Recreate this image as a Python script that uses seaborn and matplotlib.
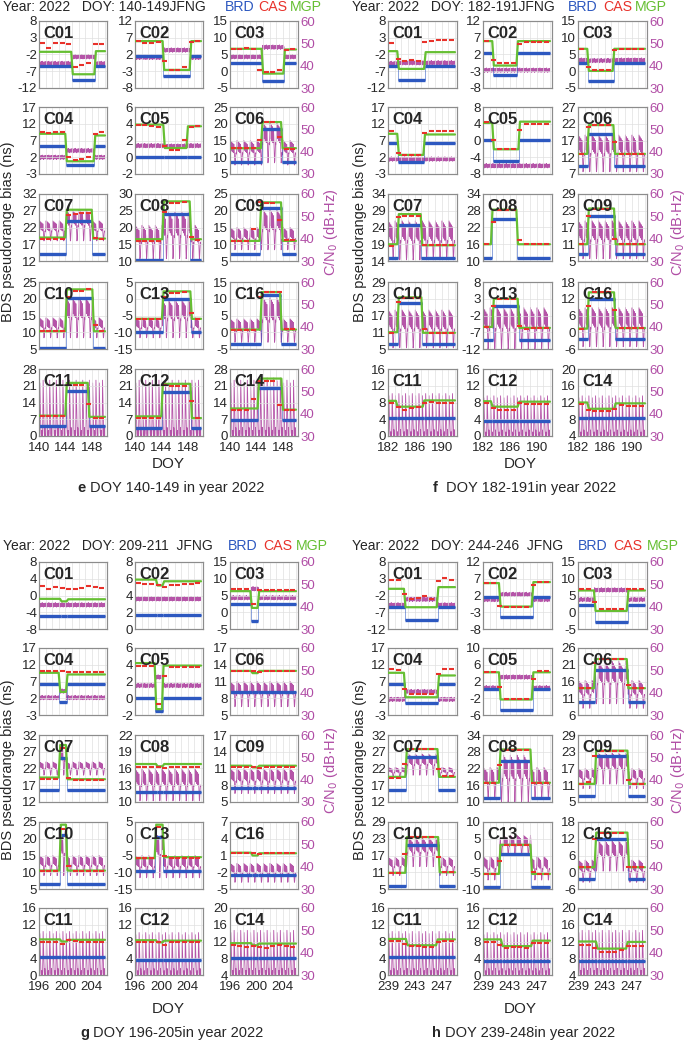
import numpy as np
import matplotlib
matplotlib.use("Agg")
import matplotlib.pyplot as plt
import seaborn as sns

sns.set_style("white")
plt.rcParams['font.family'] = ['Liberation Sans', 'DejaVu Sans']
plt.rcParams['axes.edgecolor'] = '#8c8c8c'
plt.rcParams['axes.linewidth'] = 0.8

BLUE = '#2d58c0'
RED = '#e8322b'
GREEN = '#66bf33'
PURPLE = '#b554a8'
PURPLE_T = '#b04da5'

SATS = ['C01', 'C02', 'C03', 'C04', 'C05', 'C06', 'C07', 'C08', 'C09',
        'C10', 'C13', 'C16', 'C11', 'C12', 'C14']
ORBIT = ['GEO'] * 5 + ['IGSO'] * 7 + ['MEO'] * 3

# one day of C/N0 (24 samples), per orbit type
GEO_SHAPE = [0.5, -0.7, 0.9, -0.3, 0.2, -1.0, 0.7, 0.0, -0.5, 0.8, -0.8, 0.3,
             1.0, -0.2, -0.7, 0.5, -1.0, 0.2, 0.7, -0.5, 0.3, -0.8, 0.8, -0.2]
IGSO_SHAPE = [0.55, 0.8, 1.0, 0.85, 0.6, 0.75, 0.95, 0.8, 0.55, 0.7, 0.9, 0.75,
              0.5, 0.65, 0.85, 0.7, 0.45, 0.2, 0.0, 0.05, 0.25, 0.4, 0.5, 0.45]
MEO_SHAPE = [0.0, 0.05, 0.3, 0.95, 0.7, 0.45, 0.2, 0.05, 0.0, 0.0, 0.1, 0.0,
             0.0, 0.05, 0.35, 1.0, 0.75, 0.5, 0.25, 0.05, 0.0, 0.15, 0.0, 0.0]
SHAPES = {'GEO': GEO_SHAPE, 'IGSO': IGSO_SHAPE, 'MEO': MEO_SHAPE}

# ---------------- panel e : DOY 140-149 ----------------
E_DOY0 = 140
E_YLIM = [(-12, 8), (-8, 12), (-5, 15), (-3, 17), (-2, 6), (5, 25), (12, 32), (10, 30),
          (5, 25), (5, 25), (-15, 5), (-5, 15), (0, 28), (0, 28), (0, 28)]
E_SW = [(145.0, 148.5), (144.3, 148.4), (144.9, 148.2), (144.1, 148.4), (144.4, 147.9),
        (144.8, 147.85), (144.1, 148.1), (144.25, 148.4), (144.6, 147.85), (144.1, 148.2),
        (144.2, 148.5), (144.7, 147.7), (144.1, 147.5), (144.1, 148.5), (144.3, 147.9)]
E_BRD = [(-5.3, -9.7, -5.3), (1.6, -4.4, 1.6), (2.6, -2.8, 2.6), (5.3, -0.2, 5.3), (0, 0, 0),
         (8.5, 18.5, 8.5), (14, 24, 14), (10.3, 24, 10.3), (7, 20.7, 7), (5.3, 20.2, 5.3),
         (-10, 0, -10), (-3.5, 11, -3.5), (4, 19, 4), (3.3, 18.5, 3.3), (6.5, 20, 6.5)]
E_MGP = [(-1.2, -7.9, -1.0), (6.0, -2.6, 6.0), (6.7, -0.7, 6.5), (9.0, 0.8, 8.5), (3.9, 1.1, 3.7),
         (12.7, 20.5, 12.7), (19, 27.3, 18.7), (16.5, 27.8, 16.5), (11, 22.5, 11), (10.3, 22.8, 10.3),
         (-6, 2.2, -6), (0.8, 12, 0.8), (8.5, 22.2, 8.0), (8.2, 21.8, 7.5), (11.5, 24, 11)]
E_CAS = [[1.3, -0.1, 1.3, 1.3, 1.2, -5.6, -5.0, -4.6, 1.0, 1.0],
         [6.0, 5.5, 5.5, 5.8, 0.2, -2.7, -2.7, -1.6, 5.8, 6.0],
         [6.7, 6.5, 6.8, 6.6, 0.3, -0.3, -0.3, 0.5, 6.3, 6.5],
         [9.5, 9.3, 9.6, 9.6, 2.0, 1.3, 1.5, 2.0, 9.0, 9.6],
         [3.9, 3.9, 3.7, 3.6, 1.3, 0.9, 0.9, 2.1, 3.6, 3.7],
         [12.7, 12.7, 12.7, 12.7, 15.2, 20.5, 20.5, 16.0, 12.5, 12.5],
         [18.7, 18.7, 18.7, 18.7, 25.8, 26.0, 26.2, 26.3, 18.9, 18.7],
         [16, 16, 16, 16, 24.5, 27.3, 27.3, 27.5, 17.2, 16.3],
         [11, 11, 11, 14.5, 22.5, 22.3, 22.3, 17.3, 11.3, 11.3],
         [10.3, 10.3, 10.3, 10.3, 20.4, 22.3, 22.3, 23.0, 12.2, 10.4],
         [-6, -6, -6, -6, 0.5, 1.7, 1.7, 2.0, -4.3, -6],
         [0.8, 0.8, 0.8, 0.8, 10.5, 12, 12, 12, 1, 1],
         [8.2, 8.2, 8.2, 8.2, 21.5, 21.5, 21.5, 13.5, 7.5, 7.5],
         [7.7, 7.7, 7.7, 7.7, 21.5, 21, 21, 21, 14.5, 7.5],
         [11, 11, 11, 15.5, 23, 23, 23, 13, 11, 11]]
E_CN_LO = [(41, 44, 41), (43.7, 47, 43.7), (44, 48.3, 44), (37.5, 40.5, 37.5), (42.7, 42.5, 42.7),
           (34, 35, 34), (39, 39, 39), (31, 31, 31), (35, 35, 35), (35, 35, 35),
           (35, 35, 35), (33, 33, 33), (30, 30, 30), (30, 30, 30), (30, 30, 30)]
E_CN_HI = [(41, 44, 41), (43.7, 47, 43.7), (44, 48.3, 44), (37.5, 40.5, 37.5), (42.7, 42.5, 42.7),
           (45, 53, 45), (48, 53, 48), (46, 52, 46), (45, 53, 45), (44, 53, 44),
           (44, 52, 44), (43.5, 53, 43.5), (55, 55, 55), (55, 55, 55), (55, 56, 55)]

# ---------------- panel f : DOY 182-191 ----------------
F_DOY0 = 182
F_YLIM = [(-12, 8), (-8, 12), (-5, 15), (-3, 17), (-8, 8), (7, 27), (14, 34), (10, 34),
          (5, 29), (5, 29), (-12, 8), (-6, 18), (0, 16), (0, 16), (4, 20)]
F_SW = [(183.5, 187.5), (183.5, 187.1), (183.5, 187.3), (183.5, 187.4), (183.5, 187.4),
        (183.5, 187.4), (183.5, 187.0), (183.3, 187.1), (183.5, 187.5), (183.5, 187.1),
        (183.5, 187.3), (183.5, 187.5), (183.3, 187.3), (183.3, 187.3), (183.5, 187.5)]
F_BRD = [(-5.3, -9.7, -5.3), (2.3, -4, 2.3), (2.6, -2.8, 2.6), (6.3, 0.5, 6.3), (0.2, -4.8, 0.2),
         (9.3, 18.8, 9.3), (15, 24.7, 15), (11.2, 25, 11.2), (7.4, 21, 7.4), (6.7, 21.3, 6.7),
         (-9.3, 0.8, -9.3), (-2.5, 12, -2.5), (4.3, 4.3, 4.3), (3.7, 3.7, 3.7), (8.2, 8.2, 8.2)]
F_MGP = [(-1, -6.3, -1.3), (6, -1.3, 6), (6.7, 0.1, 6.7), (9, 2.7, 8.8), (4.2, -2.1, 4.5),
         (13, 21.6, 13), (19, 28, 18.7), (16, 28.4, 16), (11, 23.8, 11), (11, 23.5, 10.8),
         (-5.4, 3, -5.7), (1.3, 14.3, 1.5), (8.4, 7.0, 8.5), (8.3, 7.0, 8.2), (12, 10.5, 11.8)]
F_CAS = [[1.3, -3.2, -4.0, -3.6, -4.0, 1.8, 2.0, 2.2, 2.4, 2.4],
         [6.0, 0.3, -0.5, -0.5, -0.5, 5.0, 5.8, 5.8, 5.8, 5.8],
         [6.7, 1.3, 0.3, 0.3, 0.3, 6.3, 6.5, 6.5, 6.5, 6.5],
         [9.7, 3.3, 2.7, 2.7, 2.7, 9.3, 9.7, 9.7, 9.7, 9.7],
         [4.5, 0.2, -2.0, -2.0, -2.0, 2.4, 4.0, 4.0, 4.0, 4.0],
         [13, 21, 21.6, 21.6, 21.6, 16.5, 13, 13, 13, 13],
         [18.5, 27, 27.5, 27.5, 27.5, 18.7, 18.7, 18.7, 18.7, 18.7],
         [16, 24, 28.4, 28.4, 28.4, 17.5, 16, 16, 16, 16],
         [11, 21.2, 23.8, 23.8, 23.8, 12.8, 11, 11, 11, 11],
         [10.8, 21.8, 23.3, 23.3, 23.3, 12, 10.8, 10.8, 10.8, 10.8],
         [-5.4, 0.8, 3, 3, 3, -5, -5.9, -5.7, -5.7, -5.7],
         [1.3, 9.4, 14.3, 14.3, 14.3, 8, 1.5, 1.5, 1.5, 1.5],
         [8.0, 6.9, 6.3, 6.7, 6.9, 7.9, 8.2, 8.0, 8.0, 8.0],
         [7.8, 6.7, 6.2, 6.2, 6.2, 8.0, 7.7, 7.7, 7.7, 7.7],
         [11.6, 10.1, 9.9, 9.9, 9.9, 10.5, 11.4, 11.2, 11.2, 11.2]]
F_CN_LO = [(41, 41.3, 41.3), (38, 38, 38), (42.5, 42.3, 42.5), (36.7, 36.7, 36.7), (33.7, 33.7, 33.7),
           (31, 31, 31), (30.5, 30.5, 30.5), None, (31, 31, 31), (30.5, 30.5, 30.5),
           (30, 30, 30), (31, 31, 31), (30, 30, 30), (30, 30, 30), (30, 30, 30)]
F_CN_HI = [(41, 41.3, 41.3), (38, 38, 38), (42.5, 42.3, 42.5), (36.7, 36.7, 36.7), (33.7, 33.7, 33.7),
           (47.5, 47.5, 47.5), (48, 48, 48), None, (48, 48, 48), (47.5, 47.5, 47.5),
           (48.5, 48.5, 48.5), (48.5, 48.5, 48.5), (49, 49, 49), (48, 48, 48), (48, 48, 48)]

# ---------------- panel g : DOY 196-205 ----------------
G_DOY0 = 196
G_YLIM = [(-8, 8), (0, 8), (-5, 15), (-3, 17), (-2, 6), (5, 17), (12, 32), (10, 22),
          (5, 17), (5, 25), (-15, 5), (-5, 7), (0, 16), (0, 16), (4, 20)]
G_SW = [(199.3, 200.3), (199.3, 200.3), (199.2, 200.3), (199.1, 200.2), (199.1, 200.2),
        (199.3, 200.3), (199.1, 200.2), (199.3, 200.3), (199.3, 200.3), (199.2, 200.2),
        (199.1, 200.3), (199.3, 200.3), (199.3, 200.3), (199.3, 200.3), (199.3, 200.3)]
G_BRD = [(-5, -5, -5), (1.7, 1.7, 1.7), (2.5, -2.5, 2.5), (6.3, 0.8, 6.3), (0, -1.5, 0),
         (9.2, 9.2, 9.2), (15.6, 25, 15.6), (11.8, 11.8, 11.8), (7.5, 7.5, 7.5), (6.5, 21, 6.5),
         (-9.5, 0.5, -9.5), (-2.5, -2.5, -2.5), (4.4, 4.4, 4.4), (3.7, 3.7, 3.7), (8, 8, 8)]
G_MGP = [(-0.8, -1.4, -0.9), (5.9, 5.2, 5.7), (6.3, 1.3, 6.3), (9.6, 3.9, 9.1), (4.2, -1.3, 3.9),
         (12.9, 12.5, 12.9), (19.3, 29, 18.8), (16.8, 16.4, 16.8), (11.5, 11.2, 11.5), (10.5, 24.2, 10.5),
         (-5.8, 4.2, -5.5), (1.5, 1.0, 1.4), (8.5, 8.0, 8.4), (8.3, 7.8, 8.2), (11.6, 11.1, 11.5)]
G_CAS = [[2.2, 1.6, 2.0, 1.8, 1.6, 1.6, 1.8, 2.2, 2.0, 1.8],
         [5.5, 5.4, 5.4, 5.3, 5.0, 5.3, 5.2, 5.4, 5.4, 5.5],
         [6.8, 6.8, 6.8, 2.5, 6.5, 6.5, 6.7, 6.7, 6.7, 6.7],
         [10, 10, 10, 10, 9.8, 9.8, 9.8, 9.8, 9.8, 9.8],
         [3.9, 3.9, 3.9, -0.7, 2.7, 3.7, 3.7, 3.7, 3.7, 3.7],
         [12.9, 12.9, 12.9, 12.9, 12.7, 12.9, 12.9, 12.9, 12.9, 12.9],
         [19, 19, 19, 28, 19.3, 18.6, 18.6, 18.6, 18.6, 18.6],
         [16.3, 16.3, 16.3, 16.3, 16.0, 16.3, 16.3, 16.3, 16.3, 16.3],
         [11.3, 11.3, 11.3, 11.3, 11.1, 11.3, 11.3, 11.3, 11.3, 11.3],
         [10.5, 10.5, 10.5, 23, 11.8, 10.5, 10.5, 10.5, 10.5, 10.5],
         [-5.8, -5.8, -5.8, 3.5, -5, -5.8, -5.8, -5.8, -5.8, -5.8],
         [1.5, 1.5, 1.5, 1.5, 1.2, 1.5, 1.5, 1.5, 1.5, 1.5],
         [8, 8, 8, 7.5, 8.3, 8.2, 8, 8, 8, 8],
         [7.8, 7.8, 7.8, 7.8, 7.1, 7.8, 7.8, 7.8, 7.8, 7.8],
         [11.2, 11.0, 10.7, 11.0, 10.6, 10.4, 11.0, 11.2, 11.0, 10.8]]
G_CN_LO = [(40.8, 40.8, 40.8), (43.5, 43.5, 43.5), (44, 48, 44), (37.8, 40.7, 37.8), (43.2, 47, 43.2),
           (33.7, 33.7, 33.7), (42, 42, 42), (30.5, 30.5, 30.5), (33.8, 33.8, 33.8), (36, 36, 36),
           (35, 35, 35), (33, 33, 33), (30, 30, 30), (30, 30, 30), (30, 30, 30)]
G_CN_HI = [(40.8, 40.8, 40.8), (43.5, 43.5, 43.5), (44, 48, 44), (37.8, 40.7, 37.8), (43.2, 47, 43.2),
           (45, 45, 45), (48, 55.5, 48), (44.7, 44.7, 44.7), (45, 45, 45), (45, 56, 45),
           (45, 56, 45), (41.5, 41.5, 41.5), (49.5, 49.5, 49.5), (49, 49, 49), (50, 50, 50)]

# ---------------- panel h : DOY 239-248 ----------------
H_DOY0 = 239
H_YLIM = [(-12, 8), (-8, 12), (-5, 15), (-3, 17), (-6, 10), (6, 26), (12, 32), (10, 34),
          (5, 29), (5, 29), (-10, 10), (-6, 18), (0, 16), (0, 16), (4, 20)]
H_SW = [(241.5, 246.4), (241.5, 246.4), (241.5, 246.4), (241.5, 246.5), (241.5, 246.4),
        (241.5, 246.4), (241.7, 246.5), (241.5, 246.2), (241.6, 246.5), (241.7, 246.6),
        (241.5, 246.2), (241.6, 246.5), (241.8, 246.3), (241.8, 246.3), (241.8, 246.3)]
H_BRD = [(-5.3, -9.4, -5.3), (1.7, -4.5, 1.7), (2.3, -2.8, 2.3), (6.3, 0.6, 6.3), (0.3, -4.8, 0.3),
         (9.8, 19.5, 9.8), (15.5, 25.3, 15.5), (11.3, 24.8, 11.3), (7.2, 21.3, 7.2), (6.2, 20.6, 6.2),
         (-9.5, 0.5, -9.5), (-2.4, 12, -2.4), (4.2, 4.2, 4.2), (3.3, 3.3, 3.3), (7.3, 7.3, 7.3)]
H_MGP = [(0.0, -5.5, 0.5), (5.7, -1.3, 6.0), (6.5, 0.4, 6.5), (9.6, 2.3, 8.8), (4.2, -2.3, 4.2),
         (14, 22.7, 14), (19.5, 27.8, 19.5), (16.9, 28.8, 16.9), (11.5, 23.4, 11.5), (10.8, 23.6, 11),
         (-5.5, 3.2, -5.5), (1.8, 14.2, 1.8), (8.6, 7.1, 8.5), (8.5, 6.9, 8.2), (12, 10.3, 11.9)]
H_CAS = [[2.5, 2.5, -1.7, -3.0, -2.8, -2.0, -3.0, 2.3, 3.2, 2.5],
         [5.7, 5.7, -1.0, -1.3, -1.3, -1.3, -1.3, 5.0, 6.0, 6.0],
         [7, 7, 3, 1, 1, 1, 1, 6.8, 6.8, 6.8],
         [10.6, 10.5, 4.8, 3.3, 3.3, 3.3, 3.3, 9.3, 10.8, 10.8],
         [4.2, 4.2, 0.6, -2.2, -2.2, -2.2, -2.2, 2.5, 4.4, 4.4],
         [14, 14, 21.5, 22.8, 22.8, 22.8, 22.8, 15, 14, 14],
         [19.2, 19.2, 23.2, 27.8, 27.8, 27.8, 27.8, 22, 19.8, 19.8],
         [16.7, 16.7, 23.3, 28.8, 28.8, 28.8, 28.8, 16.7, 16.7, 16.7],
         [11.5, 12, 21.4, 23.4, 23.4, 23.4, 23.4, 12.8, 11.4, 11.5],
         [10.8, 10.8, 17.7, 23.6, 23.6, 23.6, 23.6, 16.4, 11, 11],
         [-5.5, -5.5, -1.5, 3.2, 3.2, 3.2, 3.2, -4.8, -5.5, -5.5],
         [1.8, 1.8, 12, 14.2, 14.2, 14.2, 14.2, 1.8, 1.8, 1.8],
         [8.2, 8.2, 7.5, 7.0, 7.0, 6.8, 6.8, 7.9, 8.2, 8.2],
         [7.8, 7.8, 7.2, 6.4, 6.8, 6.8, 6.4, 7.6, 7.6, 7.6],
         [11.2, 11.2, 10.4, 9.6, 9.6, 9.4, 10.0, 11.0, 11.0, 11.0]]
H_CN_LO = [(40.8, 43.3, 40.8), (43.2, 45.5, 43.2), (43.2, 47.5, 43.2), (37, 40.5, 37), (42.2, 47, 42.2),
           (33, 35, 33), (41, 42, 41), (31.5, 30, 31.5), (36, 38, 36), (36, 40, 36),
           (34, 45, 34), (33, 38, 33), (30, 30, 30), (30, 30, 30), (30, 30, 30)]
H_CN_HI = [(40.8, 43.3, 40.8), (43.2, 45.5, 43.2), (43.2, 47.5, 43.2), (37, 40.5, 37), (42.2, 47, 42.2),
           (45.5, 54, 45.5), (45.5, 51.5, 45.5), (45.5, 51, 45.5), (45, 52, 45), (44.2, 53, 44.2),
           (44.5, 54, 44.5), (43, 51.5, 43), (49.5, 49.5, 49.5), (49, 49, 49), (50, 50, 50)]

# ---------------- layout (pixels of a 685 x 1041 canvas) ----------------
W, H = 685, 1041
fig = plt.figure(figsize=(W / 100, H / 100), dpi=100)


def rect(x, y, w, h):
    return [x / W, 1 - (y + h) / H, w / W, h / H]


def draw_sub(ax, d0, ylim, sw, brd, mgp, cas, lo, hi, orbit, name, show_x, show_r):
    t1, t2 = sw
    t_end = d0 + 10
    axr = ax.twinx()
    if lo is not None:
        t = d0 + np.arange(240) / 24
        seg = np.where(t < t1, 0, np.where(t < t2, 1, 2))
        shape = np.tile(SHAPES[orbit], 10)
        lo_a = np.array(lo)[seg]
        hi_a = np.array(hi)[seg]
        if orbit == 'GEO':
            cn = hi_a + shape
        else:
            cn = lo_a + shape * (hi_a - lo_a)
        sns.lineplot(x=t, y=cn, ax=axr, color=PURPLE, lw=0.6,
                     estimator=None, sort=False, legend=False)
    axr.set_ylim(30, 60)
    axr.set_yticks([30, 40, 50, 60])
    axr.set_ylabel('')
    if show_r:
        axr.tick_params(axis='y', labelcolor=PURPLE_T, labelsize=9.5, length=0, pad=1.5)
        axr.spines['right'].set_color('#c58cc0')
    else:
        axr.set_yticklabels([])
        axr.tick_params(axis='y', length=0)
    ax.set_zorder(axr.get_zorder() + 1)
    ax.patch.set_visible(False)

    # BRD: thick steps with thin risers
    edges = [d0, t1, t2, t_end]
    ax.plot([d0, t1, t1, t2, t2, t_end],
            [brd[0], brd[0], brd[1], brd[1], brd[2], brd[2]],
            color=BLUE, lw=0.7, alpha=0.55, zorder=2)
    for k in range(3):
        ax.hlines(brd[k], edges[k], edges[k + 1], color=BLUE, lw=2.4, zorder=2)

    # MGP
    r = 0.12
    sns.lineplot(x=[d0, t1 - r, t1 + r, t2 - r, t2 + r, t_end],
                 y=[mgp[0], mgp[0], mgp[1], mgp[1], mgp[2], mgp[2]],
                 ax=ax, color=GREEN, lw=1.6, estimator=None, sort=False,
                 legend=False, zorder=3)

    # CAS daily
    days = d0 + np.arange(10)
    ax.hlines(cas, days + 0.12, days + 0.88, color=RED, lw=1.5, zorder=4)

    ax.set_xlim(d0, d0 + 10.3)
    ax.set_ylim(*ylim)
    yt = np.linspace(ylim[0], ylim[1], 5)
    ax.set_yticks(yt)
    ax.set_yticklabels([f'{v:g}' for v in yt])
    ax.set_xticks([d0, d0 + 4, d0 + 8])
    ax.set_xticks(np.arange(d0, d0 + 11), minor=True)
    if show_x:
        ax.set_xticklabels([str(d0), str(d0 + 4), str(d0 + 8)])
    else:
        ax.set_xticklabels([])
    ax.set_xlabel('')
    ax.set_ylabel('')
    ax.grid(True, which='both', color='#e0e0e0', lw=0.5)
    ax.tick_params(which='both', length=0, labelsize=9.5)
    ax.tick_params(axis='y', pad=1.5)
    ax.tick_params(axis='x', pad=4)
    ax.text(0.06, 0.93, name, transform=ax.transAxes, fontsize=12,
            fontweight='bold', va='top', ha='left', zorder=10)


def draw_panel(d0, col_x, col_w, row_y, row_h, ylims, sws, brds, mgps, cass, los, his):
    for i, name in enumerate(SATS):
        r, c = divmod(i, 3)
        ax = fig.add_axes(rect(col_x[c], row_y[r], col_w, row_h))
        draw_sub(ax, d0, ylims[i], sws[i], brds[i], mgps[i], cass[i], los[i], his[i],
                 ORBIT[i], name, r == 4, c == 2)


LEFT_COLS = [39, 135, 230]
RIGHT_COLS = [388, 483, 578]
TOP_ROWS = [21, 107, 194, 282, 369]
BOT_ROWS = [562, 648, 735, 822, 908]

draw_panel(E_DOY0, LEFT_COLS, 68, TOP_ROWS, 67, E_YLIM, E_SW, E_BRD, E_MGP, E_CAS, E_CN_LO, E_CN_HI)
draw_panel(F_DOY0, RIGHT_COLS, 69, TOP_ROWS, 67, F_YLIM, F_SW, F_BRD, F_MGP, F_CAS, F_CN_LO, F_CN_HI)
draw_panel(G_DOY0, LEFT_COLS, 68, BOT_ROWS, 67, G_YLIM, G_SW, G_BRD, G_MGP, G_CAS, G_CN_LO, G_CN_HI)
draw_panel(H_DOY0, RIGHT_COLS, 69, BOT_ROWS, 67, H_YLIM, H_SW, H_BRD, H_MGP, H_CAS, H_CN_LO, H_CN_HI)


def ftext(x, y, s, **kw):
    fig.text(x / W, 1 - y / H, s, **kw)


# headers
HEADERS = [(3, 7, 'Year: 2022   DOY: 140-149JFNG', (225, 258, 290)),
           (352, 7, 'Year: 2022   DOY: 182-191JFNG', (568, 603, 635)),
           (3, 546, 'Year: 2022   DOY: 209-211  JFNG', (228, 263, 296)),
           (352, 546, 'Year: 2022   DOY: 244-246  JFNG', (578, 613, 647))]
for x, y, s, (xb, xc, xm) in HEADERS:
    ftext(x, y, s, fontsize=10, va='center', ha='left')
    ftext(xb, y, 'BRD', fontsize=10.2, va='center', ha='left', color=BLUE)
    ftext(xc, y, 'CAS', fontsize=10.2, va='center', ha='left', color=RED)
    ftext(xm, y, 'MGP', fontsize=10.2, va='center', ha='left', color=GREEN)

# axis titles
for xl, xr, yc in [(8, 331, 232), (360, 678, 232), (8, 331, 770), (360, 678, 770)]:
    ftext(xl, yc, 'BDS pseudorange bias (ns)', rotation=90, fontsize=10.5,
          va='center', ha='center')
    ftext(xr, yc, 'C/N$_0$ (dB·Hz)', rotation=90, fontsize=10.5,
          va='center', ha='center', color=PURPLE_T)
for xc, yc in [(168, 464), (520, 464), (168, 1009), (520, 1009)]:
    ftext(xc, yc, 'DOY', fontsize=11, va='center', ha='center')

# captions
CAPTIONS = [(77, 488, 'e', 'DOY 140-149 in year 2022'),
            (433, 488, 'f', 'DOY 182-191in year 2022'),
            (80, 1033, 'g', 'DOY 196-205in year 2022'),
            (432, 1033, 'h', 'DOY 239-248in year 2022')]
for x, y, b, s in CAPTIONS:
    ftext(x, y, b, fontsize=10.5, fontweight='bold', va='center', ha='left')
    ftext(x + 13, y, s, fontsize=10.5, va='center', ha='left')

fig.savefig('out.png', dpi=100)
